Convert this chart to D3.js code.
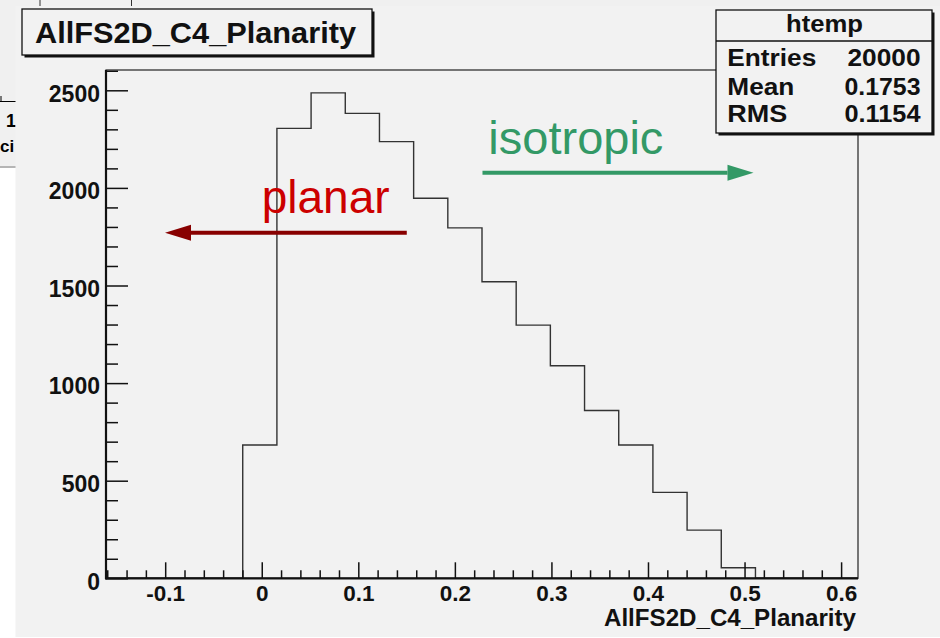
<!DOCTYPE html>
<html><head><meta charset="utf-8">
<script src="https://cdn.jsdelivr.net/npm/d3@7"></script>
<style>
html,body{margin:0;padding:0;background:#fff;}
svg{display:block;}
text{font-family:"Liberation Sans",Arial,Helvetica,sans-serif;}
</style></head>
<body>
<svg id="c" width="940" height="638"></svg>
<script>
// ---------- data ----------
const histTitle = "AllFS2D_C4_Planarity";
const xAxisTitle = "AllFS2D_C4_Planarity";
const xMin = -0.1613, binWidth = 0.0354;
const counts = [0,0,0,0,683,2305,2487,2382,2237,1947,1795,1519,1297,1089,860,683,440,247,54,0,0,0];
const yMax = 2604;
const xMajorTicks = [-0.1,0,0.1,0.2,0.3,0.4,0.5,0.6];
const xTickLabels = ["-0.1","0","0.1","0.2","0.3","0.4","0.5","0.6"];
const yMajorTicks = [0,500,1000,1500,2000,2500];
const yTickLabels = ["0","500","1000","1500","2000","2500"];
const statsName = "htemp";
const statsLabels = ["Entries","Mean","RMS"];
const statsValues = ["20000","0.1753","0.1154"];
const annotLabels = ["planar","isotropic"];
const annotTextPos = [[-0.0001,1869],[0.2347,2176]];   // [x, count] text anchor (start)
const annotArrows = [[0.1502,-0.1002,1770],[0.2286,0.5093,2077]]; // [xFrom, xTo, count]
const annotColors = ["#cc0000","#339966"];
const arrowColors = ["#880000","#339966"];

// ---------- layout ----------
const svg = d3.select("#c");
const L = 106, R = 858, T = 70, B = 578.3;
const nb = counts.length;
const xMax = xMin + nb*binWidth;
const x = d3.scaleLinear().domain([xMin, xMax]).range([L, R]);
const y = d3.scaleLinear().domain([0, yMax]).range([B, T]);

// background window fragment behind canvas
svg.append("rect").attr("x",0).attr("y",0).attr("width",940).attr("height",6).attr("fill","#f0f0f0");
svg.append("rect").attr("x",0).attr("y",0).attr("width",16).attr("height",167).attr("fill","#f0f0f0");
svg.append("line").attr("x1",0).attr("x2",16).attr("y1",167).attr("y2",167).attr("stroke","#b5b5b5").attr("stroke-width",2);
svg.append("line").attr("x1",40).attr("x2",40).attr("y1",0).attr("y2",6).attr("stroke","#333");
svg.append("line").attr("x1",131.5).attr("x2",131.5).attr("y1",0).attr("y2",6).attr("stroke","#333");
svg.append("line").attr("x1",0).attr("x2",16).attr("y1",101.5).attr("y2",101.5).attr("stroke","#000");
svg.append("line").attr("x1",1).attr("x2",1).attr("y1",96).attr("y2",101.5).attr("stroke","#000");
svg.append("text").attr("x",6).attr("y",127).attr("font-size",18).attr("font-weight","bold").text("1");
svg.append("text").attr("x",0).attr("y",152).attr("font-size",17).attr("font-weight","bold").text("ci");

// canvas
svg.append("rect").attr("x",15.5).attr("y",6).attr("width",924.5).attr("height",631).attr("fill","#f2f2f2");

// frame
svg.append("rect").attr("x",L).attr("y",T).attr("width",R-L).attr("height",B-T)
  .attr("fill","none").attr("stroke","#222").attr("stroke-width",1.2);

// histogram step
const pts = [[x(xMin), y(0)]];
counts.forEach((c,i)=>{
  pts.push([x(xMin+i*binWidth), y(c)]);
  pts.push([x(xMin+(i+1)*binWidth), y(c)]);
});
pts.push([x(xMax), y(0)]);
svg.append("path").attr("d", d3.line()(pts)).attr("fill","none").attr("stroke","#333").attr("stroke-width",1.4);

// x axis
const xMinor = d3.range(Math.ceil(xMin/0.02), Math.floor(xMax/0.02)+1).map(k=>k*0.02)
  .filter(v=>!xMajorTicks.some(m=>Math.abs(m-v)<1e-6));
const gxm = svg.append("g").attr("transform",`translate(0,${B})`)
  .call(d3.axisBottom(x).tickValues(xMinor).tickSize(-8).tickSizeOuter(0).tickFormat(""));
const gx = svg.append("g").attr("transform",`translate(0,${B})`)
  .call(d3.axisBottom(x).tickValues(xMajorTicks).tickSize(-16).tickSizeOuter(0).tickFormat((d,i)=>xTickLabels[i]));
[gxm,gx].forEach(g=>{ g.select(".domain").remove(); g.selectAll("line").attr("stroke","#111").attr("stroke-width",1.5); });
gx.selectAll("text").attr("y",22.6).attr("dy",null).attr("fill","#111")
  .attr("font-size",22.5).attr("font-weight","bold").attr("font-family","Liberation Sans, Arial, sans-serif");

// y axis
const yMinor = d3.range(0, yMax, 100).filter(v=>v%500!==0);
const gym = svg.append("g").attr("transform",`translate(${L},0)`)
  .call(d3.axisLeft(y).tickValues(yMinor).tickSize(-12).tickSizeOuter(0).tickFormat(""));
const gy = svg.append("g").attr("transform",`translate(${L},0)`)
  .call(d3.axisLeft(y).tickValues(yMajorTicks).tickSize(-22).tickSizeOuter(0).tickFormat((d,i)=>yTickLabels[i]));
[gym,gy].forEach(g=>{ g.select(".domain").remove(); g.selectAll("line").attr("stroke","#111").attr("stroke-width",1.5); });
gy.selectAll("text").attr("x",-6).attr("dy",null).attr("y",10.8).attr("fill","#111")
  .attr("font-size",23).attr("font-weight","bold").attr("font-family","Liberation Sans, Arial, sans-serif");

// thick axis lines
svg.append("line").attr("x1",L).attr("x2",L).attr("y1",T).attr("y2",B+1).attr("stroke","#111").attr("stroke-width",2.2);
svg.append("line").attr("x1",L-1).attr("x2",R).attr("y1",B).attr("y2",B).attr("stroke","#111").attr("stroke-width",2.2);

// axis title
svg.append("text").attr("x",604).attr("y",626).attr("font-size",23).attr("font-weight","bold")
  .attr("fill","#111").attr("textLength",252).attr("lengthAdjust","spacingAndGlyphs").text(xAxisTitle);

// annotations
annotArrows.forEach((a,i)=>{
  const x1 = x(a[0]), x2 = x(a[1]), yy = y(a[2]);
  const dir = Math.sign(x2-x1);
  const head = 26;
  svg.append("line").attr("x1",x1).attr("x2",x2-dir*head).attr("y1",yy).attr("y2",yy)
    .attr("stroke",arrowColors[i]).attr("stroke-width",4);
  svg.append("path").attr("d",`M${x2},${yy} L${x2-dir*head},${yy-8} L${x2-dir*head},${yy+8} Z`).attr("fill",arrowColors[i]);
});
const annotLen = [128,175];
annotLabels.forEach((t,i)=>{
  svg.append("text").attr("x",x(annotTextPos[i][0])).attr("y",y(annotTextPos[i][1]))
    .attr("font-size",46).attr("fill",annotColors[i]).attr("textLength",annotLen[i])
    .attr("lengthAdjust","spacingAndGlyphs").text(t);
});

// title box
function box(x0,y0,w,h){
  svg.append("rect").attr("x",x0+2.5).attr("y",y0+2.5).attr("width",w).attr("height",h).attr("fill","#111");
  svg.append("rect").attr("x",x0).attr("y",y0).attr("width",w).attr("height",h).attr("fill","#f2f2f2")
    .attr("stroke","#111").attr("stroke-width",1.3);
}
box(22,9,350,46);
svg.append("text").attr("x",35).attr("y",43.3).attr("font-size",30).attr("font-weight","bold")
  .attr("fill","#111").attr("textLength",321).attr("lengthAdjust","spacingAndGlyphs").text(histTitle);

// stats box
box(716,10,216,123);
svg.append("line").attr("x1",716).attr("x2",932).attr("y1",41).attr("y2",41).attr("stroke","#111").attr("stroke-width",1.3);
svg.append("text").attr("x",824.5).attr("y",32).attr("text-anchor","middle").attr("font-size",23.5).attr("font-weight","bold")
  .attr("fill","#111").attr("textLength",77).attr("lengthAdjust","spacingAndGlyphs").text(statsName);
const rowY = [65.8,94.8,122.2];
const labLen = [89,67,60];
const valLen = [73,76,76];
statsLabels.forEach((t,i)=>{
  svg.append("text").attr("x",727.3).attr("y",rowY[i]).attr("font-size",23.5).attr("font-weight","bold")
    .attr("fill","#111").attr("textLength",labLen[i]).attr("lengthAdjust","spacingAndGlyphs").text(t);
  svg.append("text").attr("x",920.5-valLen[i]).attr("y",rowY[i]).attr("font-size",23.5).attr("font-weight","bold")
    .attr("fill","#111").attr("textLength",valLen[i]).attr("lengthAdjust","spacingAndGlyphs").text(statsValues[i]);
});
</script>
</body></html>
